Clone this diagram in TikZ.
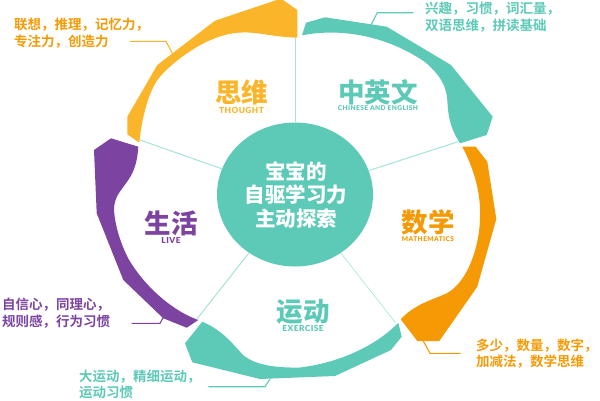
\documentclass[tikz,border=0pt]{standalone}
\usepackage{fontspec}
\usetikzlibrary{shapes.geometric}
\setmainfont{Noto Sans CJK SC Bold}
\newfontfamily\cjkheavy{Noto Sans CJK SC Black}
\newfontfamily\latinlabel{Lato Black}[LetterSpace=6]
\definecolor{tealc}{HTML}{5DC9B7}
\definecolor{spokec}{HTML}{A5E2D7}
\definecolor{yellowc}{HTML}{FAB52B}
\definecolor{orangec}{HTML}{F59A05}
\definecolor{purplec}{HTML}{7C44A0}
\tikzset{
  bigcn/.style={font=\fontsize{26.5}{26}\selectfont\cjkheavy,inner sep=0pt},
  enlab/.style={font=\fontsize{8.3}{9}\selectfont\latinlabel,inner sep=0pt},
  enlabsmall/.style={font=\fontsize{6.6}{8}\selectfont\latinlabel,inner sep=0pt},
  desc/.style={font=\fontsize{13.5}{16.5}\selectfont,inner sep=0pt,align=left,anchor=west},
  leader/.style={line width=1.1pt},
  spoke/.style={line width=1pt,spokec},
}
\begin{document}
\begin{tikzpicture}[x=1pt,y=-1pt]
\useasboundingbox (0,0) rectangle (600,400);
\fill[yellowc] (127.3,116.7) -- (157.3,65) -- (215,20.7) -- (276.7,0) -- (283,0) -- (297.3,10) -- (297.3,37.7) .. controls (275,37) and (262,33) .. (248,32.5) .. controls (232,32) and (222,35) .. (206.7,41.7) .. controls (190,50) and (172,63) .. (160,76.7) .. controls (150,88) and (142,115) .. (139.3,142.7) -- (127.3,134.3) -- cycle;
\fill[tealc] (302,35.3) -- (306,22.7) -- (325,17.3) -- (386.7,26.7) -- (451,65) -- (492.7,116.7) -- (486.7,135) -- (460,143.3) .. controls (450,128) and (448,115) .. (447.3,100) .. controls (446,85) and (440,75) .. (425,62) .. controls (390,38) and (345,27) .. (302,35.3) -- cycle;
\fill[orangec] (462.3,146.7) -- (475.7,146.7) -- (487.3,161.7) -- (496.3,219) -- (477.3,286.7) -- (439.3,341) -- (417.3,341) -- (400.7,319.3) .. controls (415,304) and (432,300) .. (446.7,293.3) .. controls (468,282) and (480,245) .. (480,216.7) .. controls (481,190) and (472,165) .. (462.3,146.7) -- cycle;
\fill[tealc] (202.3,321.7) -- (185,343.3) -- (192.3,362.3) -- (260,379) -- (335,376) -- (391,350) -- (401.7,336.7) -- (398.3,322.7) .. controls (380,342) and (345,362) .. (300,367.5) .. controls (275,368) and (255,365) .. (243,355) .. controls (232,343) and (222,330) .. (202.3,321.7) -- cycle;
\fill[purplec] (94,150) -- (111,138.3) -- (138.3,146.7) .. controls (137.5,160) and (135,170) .. (128.3,180) .. controls (120,192) and (114,197) .. (114,210) .. controls (115,225) and (120,242) .. (128,258) .. controls (142,283) and (170,310) .. (198.3,320) -- (186.7,327.7) -- (163.3,318.3) -- (123.3,280) -- (96.7,213.3) -- cycle;
\node[ellipse,fill=tealc,minimum width=156pt,minimum height=144pt,inner sep=0pt] (hub) at (295,194.5) {};
\node[font=\fontsize{20.5}{23.3}\selectfont\cjkheavy,text=white,align=center,inner sep=0pt] (hubtext) at (296,195) {宝宝的\\自驱学习力\\主动探索};
\coordinate (s1) at (295,37);
\coordinate (s2) at (140,140);
\coordinate (s3) at (458,141.7);
\coordinate (s4) at (196.7,319.3);
\coordinate (s5) at (395.7,323);
\draw[spoke] (hub) -- (s1);
\draw[spoke] (hub) -- (s2);
\draw[spoke] (hub) -- (s3);
\draw[spoke] (hub) -- (s4);
\draw[spoke,line width=0.6pt] (hub) -- (s5);
\node[bigcn,text=yellowc] (t1) at (241.5,92) {思维};
\node[enlab,text=yellowc] (e1) at (241.5,110) {THOUGHT};
\node[bigcn,text=tealc] (t2) at (378,92) {中英文};
\node[enlabsmall,text=tealc] (e2) at (378,108) {CHINESE AND ENGLISH};
\node[bigcn,text=orangec] (t3) at (428,222) {数学};
\node[enlabsmall,text=orangec] (e3) at (428,239) {MATHEMATICS};
\node[bigcn,text=tealc] (t4) at (303,312) {运动};
\node[enlab,text=tealc] (e4) at (303,328) {EXERCISE};
\node[bigcn,text=purplec] (t5) at (171,223) {生活};
\node[enlab,text=purplec] (e5) at (171,240) {LIVE};
\node[desc,text=orangec] (d1) at (14,33) {联想，推理，记忆力，\\专注力，创造力};
\node[desc,text=tealc] (d2) at (425,17) {兴趣，习惯，词汇量，\\双语思维，拼读基础};
\node[desc,text=orangec] (d3) at (476,353.5) {多少，数量，数字，\\加减法，数学思维};
\node[desc,text=tealc] (d4) at (79,384.5) {大运动，精细运动，\\运动习惯};
\node[desc,text=purplec] (d5) at (2,313) {自信心，同理心，\\规则感，行为习惯};
\coordinate (a1) at (130,41.3); \coordinate (a2) at (166,41.3); \coordinate (a3) at (172.3,53.3);
\coordinate (b1) at (413.3,12.7); \coordinate (b2) at (377.3,12.7); \coordinate (b3) at (371,25);
\coordinate (c1) at (460.7,353.3); \coordinate (c2) at (430,353.3); \coordinate (c3) at (423.3,341);
\coordinate (f1) at (208.3,386.7); \coordinate (f2) at (265,386.7); \coordinate (f3) at (270,379);
\coordinate (g1) at (131.7,323.3); \coordinate (g2) at (160,323.3); \coordinate (g3) at (163.3,317.3);
\draw[leader,yellowc] (a1) -- (a2) -- (a3);
\draw[leader,tealc] (b1) -- (b2) -- (b3);
\draw[leader,orangec] (c1) -- (c2) -- (c3);
\draw[leader,tealc] (f1) -- (f2) -- (f3);
\draw[leader,purplec] (g1) -- (g2) -- (g3);
\end{tikzpicture}
\end{document}
